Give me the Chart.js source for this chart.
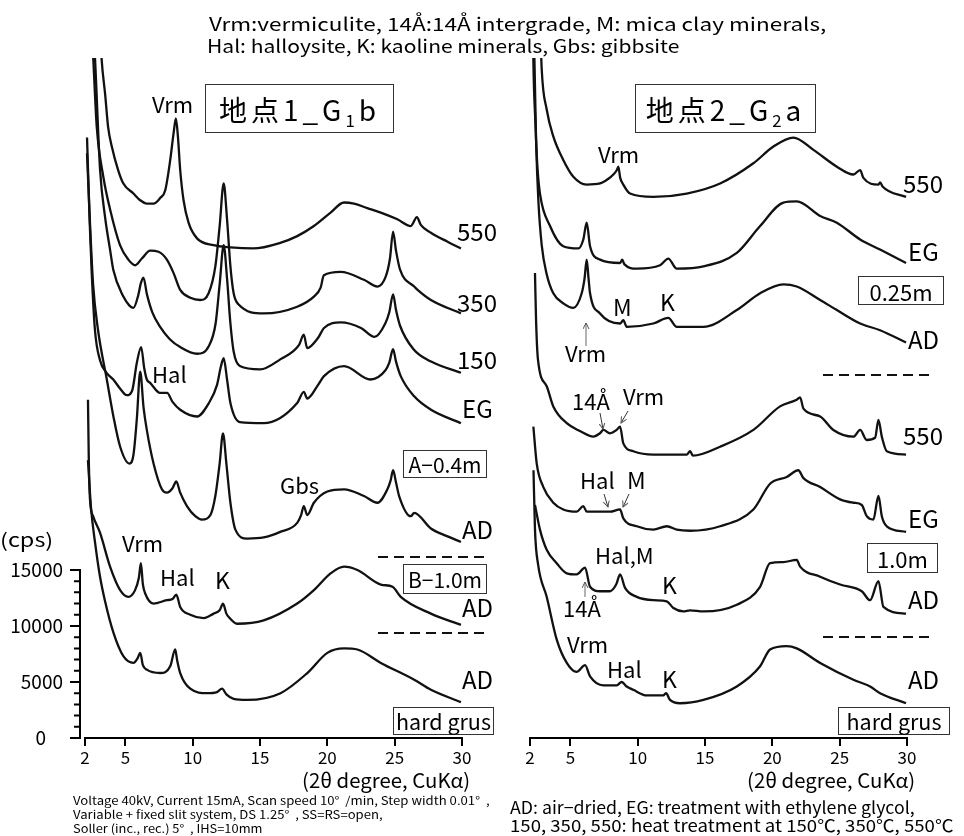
<!DOCTYPE html>
<html>
<head>
<meta charset="utf-8">
<script src="https://cdn.jsdelivr.net/npm/chart.js@4.4.0/dist/chart.umd.min.js"></script>
<style>
  html, body { margin: 0; padding: 0; background: #fff; }
  #page { position: relative; width: 964px; height: 836px; overflow: hidden; font-family: "Noto Sans CJK JP", "Noto Sans", sans-serif; color: #000; }
  canvas { position: absolute; left: 0; top: 0; }
  .t { position: absolute; white-space: nowrap; line-height: 1; transform-origin: left top; }
  .box { position: absolute; border: 1.5px solid #333; box-sizing: border-box; display: flex; align-items: center; justify-content: center; line-height: 1; white-space: nowrap; }
  .box sub { font-size: 60%; vertical-align: -0.35em; line-height: 0; }
  .dash { position: absolute; height: 2px; background: repeating-linear-gradient(to right, #111 0 10px, transparent 10px 16px); }
  svg { position: absolute; left: 0; top: 0; }
</style>
</head>
<body>
<div id="page">
  <canvas id="left" width="964" height="836"></canvas>
  <canvas id="right" width="964" height="836"></canvas>
  <svg width="964" height="836">
    <defs>
      <marker id="ah" markerWidth="7" markerHeight="7" refX="6" refY="3.5" orient="auto">
        <path d="M0,0.5 L6,3.5 L0,6.5" fill="none" stroke="#555" stroke-width="1"/>
      </marker>
    </defs>
    <line x1="586" y1="346" x2="586" y2="323" stroke="#666" stroke-width="1" marker-end="url(#ah)"/>
    <line x1="600" y1="413" x2="603" y2="429" stroke="#333" stroke-width="1" marker-end="url(#ah)"/>
    <line x1="628" y1="411" x2="621" y2="423" stroke="#333" stroke-width="1" marker-end="url(#ah)"/>
    <line x1="604" y1="494" x2="608" y2="507" stroke="#333" stroke-width="1" marker-end="url(#ah)"/>
    <line x1="629" y1="494" x2="623" y2="507" stroke="#333" stroke-width="1" marker-end="url(#ah)"/>
    <line x1="585" y1="597" x2="585" y2="582" stroke="#666" stroke-width="1" marker-end="url(#ah)"/>
  </svg>
</div>
<script>
// x-ray diffraction traces, [2theta (deg), intensity (cps incl. stacking offset)]
// 地点1_G1b
const g1b_550 = [[3.0,66000],[3.24,60500],[3.5,57400],[3.71,54600],[3.99,52800],[4.46,50700],[4.85,49500],[5.6,48600],[6.1,48000],[6.6,47700],[7.09,47700],[7.58,48200],[7.96,48900],[8.33,51600],[8.58,54000],[8.75,55300],[8.9,53700],[9.07,50700],[9.32,48000],[9.69,46000],[10.32,44600],[11.55,44000],[12.8,43800],[14.5,43700],[16.5,44200],[17.76,44800],[19.0,45700],[20.24,46900],[21.24,47800],[21.98,47700],[22.97,47300],[23.97,46900],[25.2,46300],[26.2,45700],[26.65,46500],[26.94,45800],[27.69,45100],[28.93,44300],[29.92,43700]];
const g1b_350 = [[2.4,66000],[2.62,60500],[2.87,54600],[3.36,50100],[3.86,47200],[4.6,44000],[5.22,42700],[5.72,42200],[6.22,42800],[6.84,43500],[7.46,43400],[8.08,42700],[8.58,41500],[9.07,40000],[9.82,39300],[10.56,39100],[11.18,39700],[11.68,42100],[12.0,45700],[12.3,49500],[12.55,46300],[12.8,42100],[13.04,39700],[13.41,38700],[15.27,37900],[17.76,38500],[19.0,39400],[19.5,40200],[19.74,41300],[20.99,41600],[22.72,40900],[23.72,40300],[24.34,41200],[24.65,42800],[24.88,45200],[25.1,43500],[25.4,41800],[26.45,40300],[26.7,40000],[27.69,39100],[29.92,37900]];
const g1b_150 = [[2.5,66000],[2.75,60500],[3.12,50700],[3.49,46500],[3.86,43600],[4.1,41800],[4.85,39400],[5.3,38600],[5.6,38400],[5.95,39500],[6.15,40600],[6.34,41100],[6.6,39600],[7.0,38000],[7.58,36700],[8.3,35600],[9.07,34900],[10.32,34300],[11.2,35000],[11.7,37000],[12.0,40500],[12.3,44000],[12.55,41000],[12.8,37000],[13.04,34500],[13.5,33200],[15.0,32900],[16.5,33800],[17.9,35100],[18.25,36000],[18.5,34800],[19.3,35700],[19.75,36600],[21.0,37100],[22.5,36600],[23.5,35800],[24.3,37000],[24.6,38000],[24.88,39600],[25.1,38200],[25.4,36800],[26.4,34700],[27.7,33600],[29.92,32600]];
const g1b_EG = [[2.15,53600],[2.35,46000],[2.5,41500],[2.74,36400],[3.12,33700],[3.6,32600],[4.1,32000],[4.6,31200],[5.1,30600],[5.5,31000],[5.85,33500],[6.17,34900],[6.4,33000],[6.59,32000],[6.84,31700],[7.58,30800],[8.1,30800],[8.5,30000],[9.07,29300],[10.32,28700],[11.2,29900],[11.8,31500],[12.1,33200],[12.3,33900],[12.55,32000],[12.8,29900],[13.5,28200],[15.27,28100],[17.76,29900],[18.25,30900],[18.5,30300],[19.3,31500],[19.75,32300],[21.24,33200],[23.2,32000],[24.3,32800],[24.6,33500],[24.88,34700],[25.1,33600],[25.45,32300],[26.45,30500],[27.7,29300],[29.92,28100]];
const g1b_A_AD = [[2.15,52200],[2.35,46500],[2.6,40500],[2.97,36400],[3.62,32000],[4.11,28700],[4.61,26000],[5.3,24500],[5.6,25300],[5.85,28500],[6.1,32700],[6.35,29500],[6.59,27500],[7.09,24500],[7.71,22200],[8.08,21900],[8.5,22300],[8.78,22900],[9.07,21900],[9.57,20700],[10.19,19800],[10.69,19500],[11.31,19900],[11.68,21600],[12.0,24500],[12.25,27200],[12.5,24500],[12.8,21000],[13.17,18600],[14.04,17800],[15.27,17900],[16.5,18400],[17.76,19200],[18.05,19900],[18.25,20700],[18.5,19900],[19.0,21000],[20.0,22000],[21.24,22200],[22.72,21600],[23.72,21000],[24.46,22200],[24.7,23000],[24.88,23900],[25.1,22800],[25.33,21600],[26.2,19800],[26.45,20100],[27.69,18700],[28.93,18000],[29.92,17500]];
const g1b_B_AD = [[2.22,30200],[2.28,25000],[2.37,21300],[2.6,19800],[3.12,18300],[3.86,15300],[4.61,13200],[5.22,12600],[5.72,13200],[6.0,14300],[6.15,15600],[6.3,13700],[6.47,12900],[7.09,12000],[8.08,12300],[8.5,12400],[8.78,12800],[9.07,11700],[9.82,11000],[10.81,10700],[11.55,11100],[12.0,11400],[12.25,12000],[12.5,11100],[12.67,10800],[13.3,10200],[15.27,10500],[17.76,12000],[19.0,13200],[20.24,14700],[21.24,15300],[22.23,15000],[23.97,13700],[24.84,13500],[25.45,12600],[27.69,11100],[29.92,10100]];
const g1b_hg_AD = [[2.22,24800],[2.45,20500],[2.74,17500],[3.1,14500],[3.49,12200],[4.11,9400],[4.85,7300],[5.6,6700],[5.9,7100],[6.1,7600],[6.3,6500],[6.59,6100],[7.58,5800],[8.33,6400],[8.7,7900],[8.85,6900],[9.07,5800],[9.82,4400],[11.06,4000],[11.8,4100],[12.18,4400],[12.5,3900],[13.04,3500],[14.04,3400],[16.52,4000],[18.51,5800],[20.0,7600],[21.24,8000],[22.23,7900],[23.97,6700],[26.45,5200],[27.69,4300],[29.92,3200]];

// 地点2_G2a
const g2a_025_550 = [[2.7,66000],[2.87,59700],[3.24,56100],[3.73,53700],[4.47,51600],[5.22,50100],[6.21,49400],[7.2,49500],[7.8,49900],[8.19,50300],[8.45,50700],[8.56,51000],[8.7,50000],[8.93,49400],[9.43,48600],[11.16,48300],[13.64,48600],[16.12,49500],[18.59,51300],[20.08,52800],[21.56,53600],[23.05,52500],[24.79,51000],[26.02,50300],[26.52,50700],[26.76,50000],[27.88,49400],[28.0,49600],[28.2,49200],[29.93,48300]];
const g2a_025_EG = [[2.2,66000],[2.25,60500],[2.4,55000],[2.55,51000],[2.74,48600],[3.49,45700],[4.47,43900],[5.59,43700],[5.96,44500],[6.21,46000],[6.46,43900],[7.2,42700],[8.69,42400],[8.85,42700],[9.0,42300],[9.93,41900],[11.66,42200],[12.27,42800],[12.9,41900],[14.88,42100],[17.36,43300],[19.09,45700],[20.82,47800],[21.81,47900],[23.55,46600],[24.79,46000],[26.52,44500],[28.0,43600],[29.93,42400]];
const g2a_025_AD = [[2.28,66000],[2.33,60500],[2.45,53400],[2.62,48000],[2.87,44000],[3.24,41400],[3.73,39700],[4.47,38800],[5.22,38400],[5.84,39700],[6.05,41000],[6.21,42700],[6.35,41000],[6.46,39700],[7.2,37900],[8.69,37000],[8.93,37300],[9.18,36700],[11.16,37000],[12.27,37500],[12.9,36700],[14.88,36700],[17.36,38200],[19.09,39700],[20.82,40500],[21.81,40300],[23.55,39100],[24.79,38200],[26.52,37000],[28.0,36400],[29.93,35300]];
const g2a_10_550 = [[2.37,41500],[2.45,37300],[2.59,33800],[3.24,31400],[3.73,29600],[4.73,28100],[5.71,27400],[6.7,26900],[7.2,27200],[7.45,27500],[7.94,27200],[8.44,27500],[8.69,27800],[8.93,26300],[9.67,25600],[11.16,25300],[13.64,25300],[13.89,25600],[14.1,25200],[16.12,26000],[18.59,27500],[20.57,29600],[21.81,30200],[22.06,30400],[22.31,29400],[23.55,28700],[24.53,27500],[26.02,26900],[26.52,27500],[27.01,26600],[27.63,26800],[27.88,28400],[28.13,26900],[28.5,25600],[29.93,25300]];
const g2a_10_EG = [[2.25,27800],[2.5,24500],[2.99,22400],[3.73,21000],[4.47,20400],[5.47,20200],[5.96,20700],[6.21,20200],[6.96,20200],[7.94,20200],[8.69,20400],[8.93,19600],[9.93,18900],[11.16,18600],[12.16,18900],[12.9,18600],[13.89,18500],[16.12,18900],[18.59,20400],[19.83,22700],[21.07,23300],[21.93,23900],[22.31,23200],[23.55,22400],[25.03,21300],[26.02,21000],[26.64,20800],[27.01,19800],[27.5,19500],[27.88,21600],[28.13,19800],[28.5,18900],[29.93,18400]];
const g2a_10_AD = [[2.37,20800],[2.74,18600],[3.24,16800],[3.98,15600],[4.73,14700],[5.47,14600],[6.09,15200],[6.46,13500],[7.2,13100],[7.94,13100],[8.4,13700],[8.69,14600],[9.06,13400],[9.93,12600],[11.16,12300],[12.16,12200],[12.65,11600],[13.39,11300],[13.89,11400],[14.88,11300],[17.36,11900],[19.09,13500],[19.83,15600],[20.82,15700],[21.81,15900],[22.06,15300],[23.55,14400],[25.03,13700],[26.64,13100],[27.26,12300],[27.88,14000],[28.25,11700],[29.93,11100]];
const g2a_hg_AD = [[2.26,23900],[2.37,18600],[2.6,15500],[3.24,12600],[3.98,8800],[4.73,6700],[5.47,5900],[6.09,6500],[6.46,5500],[7.45,4700],[8.44,4700],[8.81,5000],[9.18,4600],[9.67,4300],[10.67,3800],[11.9,3800],[12.1,4000],[12.4,3400],[13.14,3100],[14.88,3400],[17.36,4600],[19.09,6400],[19.83,7900],[21.07,8200],[21.81,8000],[23.55,6700],[26.02,5200],[27.26,4600],[28.0,4000],[29.93,3100]];

const xTicks = [2, 5, 10, 15, 20, 25, 30];
const yTicks = [0, 5000, 10000, 15000];
const yMax = 60700;

const FONT = '"Noto Sans CJK JP", "Noto Sans", sans-serif';

// axis line along 2..30 and the short cps axis
const axisPlugin = {
  id: 'axes',
  afterDraw(chart, args, opts) {
    const { ctx, chartArea, scales: { x, y } } = chart;
    ctx.save();
    ctx.strokeStyle = '#000';
    ctx.lineWidth = 2;
    ctx.beginPath();
    ctx.moveTo(x.getPixelForValue(2) - 1, chartArea.bottom);
    ctx.lineTo(x.getPixelForValue(30) + 1, chartArea.bottom);
    ctx.stroke();
    if (opts.yAxis) {
      const xl = chartArea.left;
      ctx.beginPath();
      ctx.moveTo(xl, y.getPixelForValue(0) + 1);
      ctx.lineTo(xl, y.getPixelForValue(15000) - 1);
      for (let v = 0; v <= 15000; v += 1000) {
        const py = y.getPixelForValue(v);
        ctx.moveTo(xl, py);
        ctx.lineTo(xl - (v % 5000 === 0 ? 10 : 6), py);
      }
      ctx.stroke();
    }
    ctx.restore();
  }
};

function makeChart(id, series, xMin, pad, showY) {
  return new Chart(document.getElementById(id), {
    type: 'line',
    data: {
      datasets: series.map(s => ({ data: s, borderColor: '#111', borderWidth: 2.3, pointRadius: 0, cubicInterpolationMode: 'monotone', fill: false }))
    },
    options: {
      responsive: false,
      animation: false,
      events: [],
      layout: { padding: pad },
      plugins: { legend: { display: false }, tooltip: { enabled: false }, axes: { yAxis: showY } },
      scales: {
        x: {
          type: 'linear', min: xMin, max: 30,
          afterBuildTicks: s => { s.ticks = xTicks.map(v => ({ value: v })); },
          afterFit: s => { s.height = 98; s.paddingLeft = 0; s.paddingRight = 0; },
          border: { display: false },
          grid: { drawOnChartArea: false, drawTicks: true, tickLength: 8, color: '#000', lineWidth: 2 },
          ticks: { color: '#000', font: { family: FONT, size: 17 }, padding: 1, maxRotation: 0, autoSkip: false }
        },
        y: {
          display: showY, min: 0, max: yMax,
          afterBuildTicks: s => { s.ticks = yTicks.map(v => ({ value: v })); },
          afterFit: s => { s.width = showY ? 80 : 0; s.paddingTop = 0; s.paddingBottom = 0; },
          border: { display: false },
          grid: { display: false, drawTicks: false },
          ticks: { color: '#000', font: { family: FONT, size: 19 }, padding: 17, callback: v => v === 0 ? '0    ' : String(v) }
        }
      }
    },
    plugins: [axisPlugin]
  });
}

makeChart('left', [g1b_550, g1b_350, g1b_150, g1b_EG, g1b_A_AD, g1b_B_AD, g1b_hg_AD], 2 - 5 / 13.45, { left: 0, top: 58, right: 502, bottom: 0 }, true);
makeChart('right', [g2a_025_550, g2a_025_EG, g2a_025_AD, g2a_10_550, g2a_10_EG, g2a_10_AD, g2a_hg_AD], 2, { left: 530, top: 58, right: 57, bottom: 0 }, false);

// text: [html, left, cap centre y, size, fit width]
const page = document.getElementById('page');
const notes = [
  ['Vrm:vermiculite, 14Å:14Å intergrade, M: mica clay minerals,', 209, 24, 18, 617],
  ['Hal: halloysite, K: kaoline minerals, Gbs: gibbsite', 207, 46, 18, 472],
  ['Vrm', 152, 105, 22], ['550', 457, 233, 24], ['350', 457, 304, 24], ['150', 457, 361, 24], ['EG', 462, 410, 24],
  ['Hal', 152, 375, 22], ['Gbs', 280, 486, 22], ['AD', 462, 531, 24],
  ['Vrm', 122, 544, 22], ['Hal', 160, 578, 22], ['K', 215, 581, 23], ['AD', 462, 609, 24], ['AD', 462, 681, 24],
  ['(cps)', 0, 540, 19, 53],
  ['(2θ degree, CuKα)', 302, 781, 20, 168], ['(2θ degree, CuKα)', 747, 781, 20, 168],
  ['Vrm', 598, 155, 22], ['550', 903, 185, 24], ['EG', 908, 253, 24], ['AD', 908, 341, 24],
  ['M', 613, 308, 23], ['K', 660, 303, 23], ['Vrm', 565, 354, 22],
  ['14Å', 572, 402, 22], ['Vrm', 623, 397, 22], ['550', 903, 437, 24],
  ['Hal', 580, 481, 22], ['M', 627, 481, 23], ['EG', 908, 520, 24],
  ['Hal,M', 595, 556, 22], ['K', 662, 586, 23], ['14Å', 563, 609, 22], ['AD', 908, 601, 24],
  ['Vrm', 567, 645, 22], ['Hal', 607, 670, 22], ['K', 662, 680, 23], ['AD', 908, 681, 24],
  ['Voltage 40kV, Current 15mA, Scan speed 10°&nbsp; /min, Step width 0.01°&nbsp; ,', 73, 802, 11.5, 417],
  ['Variable + fixed slit system, DS 1.25°&nbsp; , SS=RS=open,', 73, 816, 11.5, 310],
  ['Soller (inc., rec.) 5°&nbsp; , IHS=10mm', 73, 830, 11.5, 190],
  ['AD: air−dried, EG: treatment with ethylene glycol,', 510, 808, 17, 405],
  ['150, 350, 550: heat treatment at 150℃, 350℃, 550℃', 510, 826, 17, 443]
];
notes.forEach(([html, x, y, size, w]) => {
  const d = document.createElement('div');
  d.className = 't';
  d.innerHTML = html;
  d.style.left = x + 'px';
  d.style.top = (y - 0.57 * size) + 'px';
  d.style.fontSize = size + 'px';
  page.appendChild(d);
  if (w) d.style.transform = `scaleX(${w / d.offsetWidth})`;
});

// boxed labels: [html, left, top, width, height, size, letter spacing]
const boxes = [
  ['地点1_G<sub>1</sub>b', 205, 84, 189, 49, 28, 4],
  ['地点2_G<sub>2</sub>a', 635, 84, 181, 49, 28, 4],
  ['A−0.4m', 403, 450, 84, 28, 21, 0],
  ['B−1.0m', 403, 564, 84, 30, 21, 0],
  ['hard grus', 393, 707, 101, 28, 21.5, 0],
  ['0.25m', 858, 276, 86, 29, 22, 0],
  ['1.0m', 867, 543, 71, 30, 22, 0],
  ['hard grus', 838, 707, 112, 28, 21.5, 0]
];
boxes.forEach(([html, x, y, w, h, size, ls]) => {
  const d = document.createElement('div');
  d.className = 'box';
  d.innerHTML = '<span>' + html + '</span>';
  Object.assign(d.style, { left: x + 'px', top: y + 'px', width: w + 'px', height: h + 'px', fontSize: size + 'px', letterSpacing: ls + 'px' });
  page.appendChild(d);
});

// separators between sampling depths
[[378, 557], [378, 633], [823, 375], [823, 637]].forEach(([x, y]) => {
  const d = document.createElement('div');
  d.className = 'dash';
  Object.assign(d.style, { left: x + 'px', top: (y - 1) + 'px', width: '107px' });
  page.appendChild(d);
});
</script>
</body>
</html>
